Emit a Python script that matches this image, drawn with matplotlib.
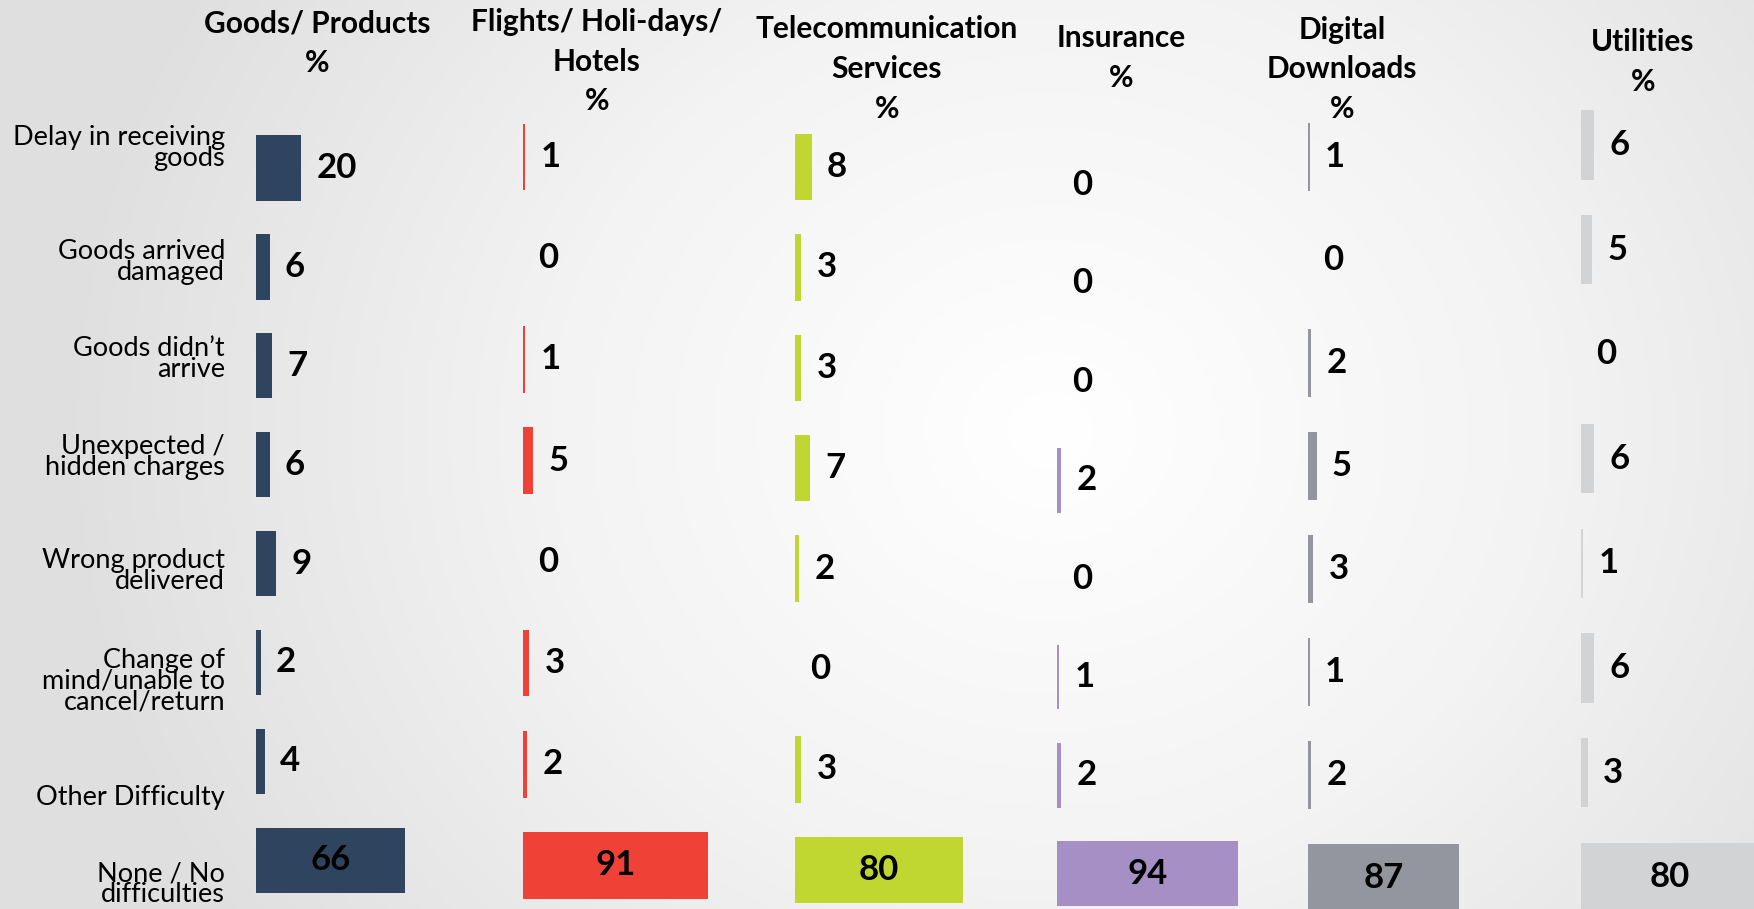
import matplotlib.pyplot as plt
import numpy as np
from matplotlib.colors import LinearSegmentedColormap
from matplotlib.transforms import blended_transform_factory

categories = [
    "Delay in receiving\ngoods",
    "Goods arrived\ndamaged",
    "Goods didn\u2019t\narrive",
    "Unexpected /\nhidden charges",
    "Wrong product\ndelivered",
    "Change of\nmind/unable to\ncancel/return",
    "Other Difficulty",
    "None / No\ndifficulties",
]

headers = [
    "Goods/ Products\n%",
    "Flights/ Holi-days/\nHotels\n%",
    "Telecommunication\nServices\n%",
    "Insurance\n%",
    "Digital\nDownloads\n%",
    "Utilities\n%",
]

goods = [20, 6, 7, 6, 9, 2, 4, 66]
flights = [1, 0, 1, 5, 0, 3, 2, 91]
telecom = [8, 3, 3, 7, 2, 0, 3, 80]
insurance = [0, 0, 0, 2, 0, 1, 2, 94]
digital = [1, 0, 2, 5, 3, 1, 2, 87]
utilities = [6, 5, 0, 6, 1, 6, 3, 80]

series = [goods, flights, telecom, insurance, digital, utilities]
colors = ["#2F445E", "#EF4136", "#BFD730", "#A68FC5", "#93969E", "#D1D3D4"]

W, H = 1754, 909
fig = plt.figure(figsize=(W / 100, H / 100), dpi=100)

# radial background
bg = fig.add_axes([0, 0, 1, 1], zorder=-10)
yy, xx = np.mgrid[0:H, 0:W]
r = np.sqrt(((xx - 1050) / 1000.0) ** 2 + ((yy - 430) / 900.0) ** 2)
cmap = LinearSegmentedColormap.from_list("bg", ["#FFFFFF", "#F3F3F3", "#DFDFDF"])
bg.imshow(np.clip(r, 0, 1), cmap=cmap, vmin=0, vmax=1, aspect="auto")
bg.axis("off")

# panel layout in pixels: bar start x, px per unit, first row y, row spacing
panel_x = [256, 523, 795, 1057, 1308, 1581]
panel_scale = [2.25, 2.03, 2.10, 1.93, 1.74, 2.22]
panel_y0 = [168, 157, 167, 185, 157, 145]
panel_dy = [98.9, 101.2, 100.4, 98.4, 103.0, 104.6]

header_x = [317, 597, 887, 1121, 1342, 1643]
header_y = [43, 62, 69, 58, 69, 62]

font = "Lato"
axes = []
for i, vals in enumerate(series):
    top = panel_y0[i] - panel_dy[i] / 2
    bottom = panel_y0[i] + 7.5 * panel_dy[i]
    width = 100 * panel_scale[i]
    ax = fig.add_axes([panel_x[i] / W, 1 - bottom / H, width / W, (bottom - top) / H])
    ax.set_xlim(0, 100)
    ax.set_ylim(7.5, -0.5)
    ax.axis("off")
    y = np.arange(len(vals))
    ax.barh(y, vals, height=0.66, color=colors[i])
    for j, v in enumerate(vals):
        if j == len(vals) - 1:
            ax.text(v / 2, j, str(v), ha="center", va="center",
                    fontsize=25, fontweight="bold", family=font, color="black")
        else:
            ax.annotate(str(v), (v, j), xytext=(11, 0), textcoords="offset points",
                        ha="left", va="center", fontsize=25, fontweight="bold",
                        family=font, color="black")
    fig.text(header_x[i] / W, 1 - header_y[i] / H, headers[i], ha="center", va="center",
             fontsize=21.5, fontweight="bold", family=font, linespacing=1.5)
    axes.append(ax)

# category labels next to the first panel
label_shift = [-0.20, -0.05, -0.07, -0.08, 0.07, 0.19, 0.37, 0.24]
tr = blended_transform_factory(fig.transFigure, axes[0].transData)
for j, lab in enumerate(categories):
    axes[0].text(225 / W, j + label_shift[j], lab, transform=tr, ha="right", va="center",
                 fontsize=19.5, family=font, linespacing=0.8, color="black")

fig.savefig("out.png", dpi=100)
